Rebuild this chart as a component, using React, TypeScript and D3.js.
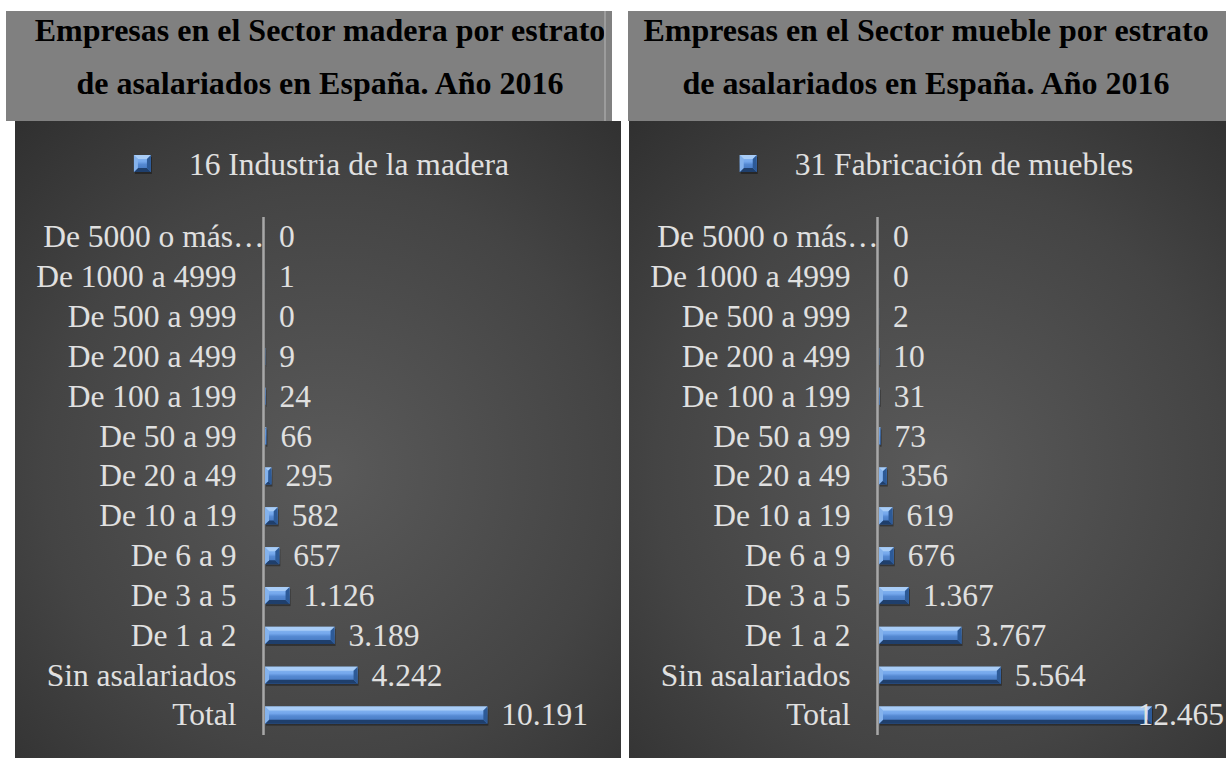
import React from "react";
import * as d3 from "d3";

// ---------- DATA ----------
const categories = [
  "De 5000 o más…",
  "De 1000 a 4999",
  "De 500 a 999",
  "De 200 a 499",
  "De 100 a 199",
  "De 50 a 99",
  "De 20 a 49",
  "De 10 a 19",
  "De 6 a 9",
  "De 3 a 5",
  "De 1 a 2",
  "Sin asalariados",
  "Total",
];
const maderaValues = [0, 1, 0, 9, 24, 66, 295, 582, 657, 1126, 3189, 4242, 10191];
const muebleValues = [0, 0, 2, 10, 31, 73, 356, 619, 676, 1367, 3767, 5564, 12465];
const maderaTitle = ["Empresas en el Sector madera por estrato", "de asalariados en España. Año 2016"];
const muebleTitle = ["Empresas en el Sector mueble por estrato", "de asalariados en España. Año 2016"];
const maderaSeries = "16 Industria de la madera";
const muebleSeries = "31 Fabricación de muebles";
const maderaMax = 12000;
const muebleMax = 14000;

const locale = d3.formatLocale({ decimal: ",", thousands: ".", grouping: [3], currency: ["", " €"] });
const fmt = locale.format(",d");

const FONT = "'Liberation Serif', 'Times New Roman', serif";

function measure(text: string, size: number, weight = "normal") {
  if (typeof document === "undefined") return text.length * size * 0.5;
  const c = document.createElement("canvas");
  const ctx = c.getContext("2d");
  if (!ctx) return text.length * size * 0.5;
  ctx.font = `${weight} ${size}px ${FONT}`;
  return ctx.measureText(text).width;
}

function BevelBar({ x, y, w, h, id }: { x: number; y: number; w: number; h: number; id: string }) {
  if (w <= 0) return null;
  const b = Math.min(4, w / 2, h / 2);
  const x1 = x + w;
  const y1 = y + h;
  return (
    <g>
      <rect x={x + 1} y={y + 2} width={w} height={h} fill="#000" opacity={0.35} />
      <rect x={x} y={y} width={w} height={h} fill={`url(#${id})`} />
      <polygon points={`${x},${y} ${x1},${y} ${x1 - b},${y + b} ${x + b},${y + b}`} fill="#a9cdf7" />
      <polygon points={`${x},${y1} ${x1},${y1} ${x1 - b},${y1 - b} ${x + b},${y1 - b}`} fill="#1f3f6c" />
      <polygon points={`${x},${y} ${x + b},${y + b} ${x + b},${y1 - b} ${x},${y1}`} fill="#84b2ec" />
      <polygon points={`${x1},${y} ${x1 - b},${y + b} ${x1 - b},${y1 - b} ${x1},${y1}`} fill="#2d5a97" />
    </g>
  );
}

type PanelProps = {
  title: string[];
  series: string;
  values: number[];
  xMax: number;
  boxX0: number;
  boxX1: number;
  darkX0: number;
  darkX1: number;
  titleCx: number;
  axisX: number;
  pxPerUnit: number;
  legendShift: number;
  gid: string;
};

function Panel(p: PanelProps) {
  const fontSize = 31.5;
  const y = d3
    .scaleBand<string>()
    .domain(categories)
    .range([217, 735])
    .paddingInner(0.57)
    .paddingOuter(0.285);
  const barX0 = p.axisX + 1.5;
  const x = d3.scaleLinear().domain([0, p.xMax]).range([barX0, barX0 + p.xMax * p.pxPerUnit]);
  const legendTw = measure(p.series, 31.5);
  const legendW = 17 + 38 + legendTw;
  const legendCx = (p.darkX0 + p.darkX1) / 2 + p.legendShift;
  const mx = legendCx - legendW / 2;
  const labelColor = "#e0e0e0";

  return (
    <g>
      <rect x={p.boxX0} y={11} width={p.boxX1 - p.boxX0} height={110} fill="#808080" />
      <rect x={p.darkX0} y={121} width={p.darkX1 - p.darkX0} height={637} fill={`url(#${p.gid}-bg)`} />
      <text x={p.titleCx} y={41} textAnchor="middle" fontFamily={FONT} fontWeight="bold" fontSize={32} fill="#000">
        {p.title[0]}
      </text>
      <text x={p.titleCx} y={94} textAnchor="middle" fontFamily={FONT} fontWeight="bold" fontSize={32} fill="#000">
        {p.title[1]}
      </text>

      {/* legend */}
      <BevelBar x={mx} y={155} w={17} h={17} id={`${p.gid}-face`} />
      <text x={mx + 55} y={163.5} dy="0.35em" fontFamily={FONT} fontSize={31.5} fill={labelColor}>
        {p.series}
      </text>

      {/* axis */}
      <line x1={p.axisX} x2={p.axisX} y1={y.range()[0]} y2={y.range()[1]} stroke="#a8a8a8" strokeWidth={2.5} />

      {categories.map((c) => {
        const cy = (y(c) as number) + y.bandwidth() / 2;
        const truncated = c.endsWith("…");
        return (
          <text
            key={c}
            x={truncated ? p.axisX + 1 : p.axisX - 27}
            y={cy}
            dy="0.33em"
            textAnchor="end"
            fontFamily={FONT}
            fontSize={fontSize}
            fill={labelColor}
          >
            {c}
          </text>
        );
      })}

      {p.values.map((v, i) => {
        const c = categories[i];
        const by = y(c) as number;
        const end = x(v);
        const label = fmt(v);
        const tw = measure(label, fontSize);
        let lx = end + 14;
        let anchor: "start" | "end" = "start";
        if (lx + tw > p.darkX1 - 1) {
          lx = p.darkX1 - 2;
          anchor = "end";
        }
        return (
          <g key={c}>
            <BevelBar x={barX0} y={by} w={end - barX0} h={y.bandwidth()} id={`${p.gid}-face`} />
            <text
              x={lx}
              y={by + y.bandwidth() / 2}
              dy="0.33em"
              textAnchor={anchor}
              fontFamily={FONT}
              fontSize={fontSize}
              fill={labelColor}
            >
              {label}
            </text>
          </g>
        );
      })}
    </g>
  );
}

function Defs({ gid, cx, cy }: { gid: string; cx: number; cy: number }) {
  return (
    <>
      <radialGradient id={`${gid}-bg`} gradientUnits="userSpaceOnUse" cx={cx} cy={cy} r={520}>
        <stop offset="0%" stopColor="#5a5a5a" />
        <stop offset="55%" stopColor="#444444" />
        <stop offset="100%" stopColor="#2a2a2a" />
      </radialGradient>
      <linearGradient id={`${gid}-face`} x1="0" y1="0" x2="0" y2="1">
        <stop offset="0%" stopColor="#8dbcf3" />
        <stop offset="40%" stopColor="#74a7ec" />
        <stop offset="55%" stopColor="#5589d2" />
        <stop offset="100%" stopColor="#3f72ba" />
      </linearGradient>
    </>
  );
}

export default function App() {
  return (
    <svg
      width={1226}
      height={758}
      viewBox="0 0 1226 758"
      style={{ position: "fixed", left: 0, top: 0, background: "#fff" }}
    >
      <defs>
        <Defs gid="madera" cx={330} cy={470} />
        <Defs gid="mueble" cx={940} cy={470} />
      </defs>
      <rect x={0} y={0} width={1226} height={758} fill="#ffffff" />
      <Panel
        title={maderaTitle}
        series={maderaSeries}
        values={maderaValues}
        xMax={maderaMax}
        boxX0={6}
        boxX1={612}
        darkX0={15}
        darkX1={621}
        titleCx={320}
        axisX={263.5}
        pxPerUnit={0.02182}
        legendShift={3.5}
        gid="madera"
      />
      <line x1={605} x2={605} y1={11} y2={121} stroke="#a6a6a6" strokeWidth={1.5} />
      <Panel
        title={muebleTitle}
        series={muebleSeries}
        values={muebleValues}
        xMax={muebleMax}
        boxX0={628}
        boxX1={1226}
        darkX0={629}
        darkX1={1226}
        titleCx={926}
        axisX={877.5}
        pxPerUnit={0.0219}
        legendShift={9}
        gid="mueble"
      />
    </svg>
  );
}
